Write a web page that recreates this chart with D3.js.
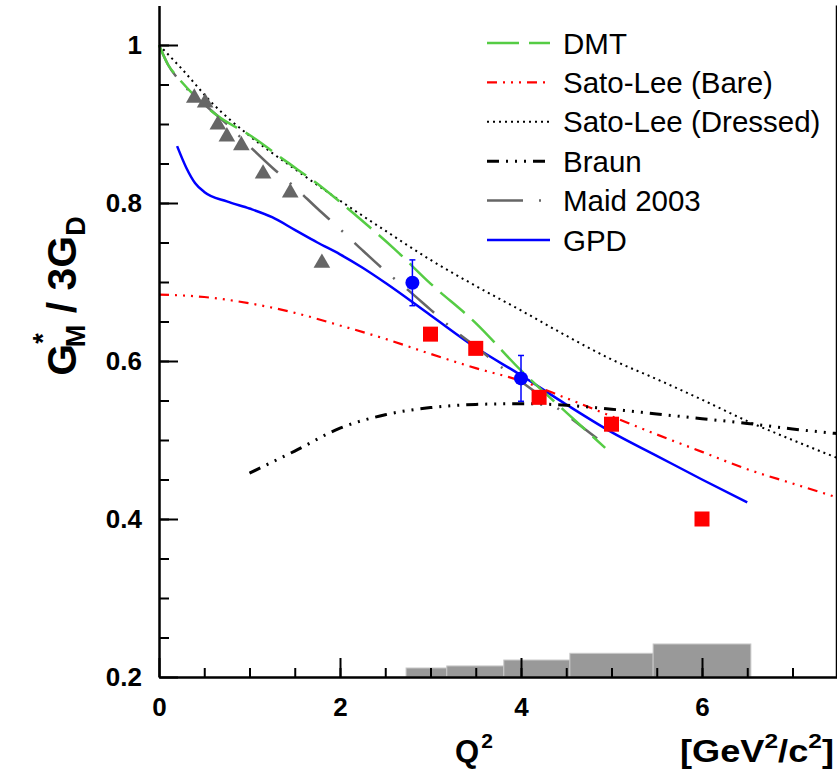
<!DOCTYPE html>
<html lang="en">
<head>
  <meta charset="utf-8">
  <title>GM* / 3GD vs Q2</title>
  <script src="https://d3js.org/d3.v7.min.js"></script>
  <style>
  body { margin: 0; background: #fff; }
  svg { display: block; font-family: "Liberation Sans", Arial, sans-serif; }
  .axis path, .axis line { stroke: #000; stroke-width: 2; }
  .axis text { font-size: 26px; font-weight: bold; fill: #000; font-family: "Liberation Sans", Arial, sans-serif; }
  .legend text { font-size: 29.5px; fill: #000; }
  </style>
</head>
<body>
<script>

// model curves, [Q2, GM*/3GD]
var dmt = [[0,1.0],[0.1,0.975],[0.2,0.96],[0.4,0.935],[0.65,0.91],[1.0,0.886],[1.4,0.853],[1.8,0.82],[2.2,0.782],[2.6,0.742],[3.0,0.698],[3.5,0.648],[4.0,0.588],[4.5,0.535],[4.93,0.49]];
var satoBare = [[0,0.684],[0.5,0.681],[1.0,0.673],[1.5,0.661],[2.0,0.645],[2.5,0.628],[3.0,0.609],[3.5,0.591],[4.0,0.575],[4.5,0.553],[5.0,0.53],[5.5,0.507],[6.0,0.485],[6.5,0.463],[7.0,0.445],[7.5,0.427]];
var satoDressed = [[0,1.0],[0.25,0.97],[0.6,0.925],[1.0,0.885],[1.5,0.843],[2.0,0.803],[2.5,0.765],[3.0,0.728],[3.5,0.695],[4.0,0.664],[4.5,0.632],[5.0,0.602],[5.5,0.577],[6.0,0.551],[6.5,0.524],[7.0,0.5],[7.5,0.477]];
var braun = [[1.0,0.458],[1.25,0.472],[1.5,0.486],[2.0,0.515],[2.5,0.532],[3.0,0.541],[3.5,0.545],[4.0,0.546],[4.5,0.544],[5.0,0.539],[5.5,0.533],[6.0,0.527],[6.5,0.521],[7.0,0.514],[7.5,0.508]];
var maid = [[0,1.0],[0.1,0.975],[0.25,0.952],[0.5,0.925],[0.75,0.9],[1.0,0.872],[1.25,0.845],[1.5,0.82],[1.75,0.793],[2.0,0.767],[2.25,0.74],[2.5,0.714],[2.75,0.69],[3.0,0.665],[3.25,0.64],[3.5,0.618],[3.75,0.595],[4.0,0.574],[4.25,0.553],[4.5,0.532],[4.84,0.502]];
var gpd = [[0.2,0.872],[0.3,0.845],[0.4,0.825],[0.5,0.814],[0.75,0.802],[1.0,0.793],[1.25,0.782],[1.5,0.766],[1.75,0.75],[2.0,0.735],[2.25,0.718],[2.5,0.699],[3.0,0.658],[3.5,0.617],[4.0,0.582],[4.5,0.545],[5.0,0.51],[5.5,0.48],[6.0,0.45],[6.5,0.421]];

// data points
var triQ2 = [0.39,0.51,0.65,0.75,0.91,1.15,1.45,1.8];
var triVal = [0.933,0.927,0.899,0.884,0.873,0.837,0.813,0.724];
var circQ2 = [2.8,4.0];
var circVal = [0.699,0.578];
var circErr = [0.029,0.029];
var sqQ2 = [3.0,3.5,4.2,5.0,6.0];
var sqVal = [0.634,0.616,0.554,0.520,0.400];

// systematic error band (histogram above 0.2)
var sysEdges = [2.73,3.18,3.81,4.54,5.46,6.54];
var sysHeights = [0.0114,0.014,0.0215,0.030,0.0418];

var legendNames = ["DMT","Sato-Lee (Bare)","Sato-Lee (Dressed)","Braun","Maid 2003","GPD"];

var xTicks = [0,2,4,6];
var yTicks = [0.2,0.4,0.6,0.8,1];

var width = 837, height = 773;

var x = d3.scaleLinear().domain([0,7.5]).range([159, 837.75]);
var y = d3.scaleLinear().domain([0.2,1.05]).range([677, 5.5]);

var svg = d3.select("body").append("svg")
    .attr("width", width)
    .attr("height", height);

svg.append("rect").attr("width", width).attr("height", height).attr("fill", "#fff");

// histogram
svg.append("g").selectAll("rect")
    .data(sysHeights)
  .enter().append("rect")
    .attr("x", function(d, i) { return x(sysEdges[i]); })
    .attr("width", function(d, i) { return x(sysEdges[i+1]) - x(sysEdges[i]); })
    .attr("y", function(d) { return y(0.2 + d); })
    .attr("height", function(d) { return y(0.2) - y(0.2 + d); })
    .attr("fill", "#999")
    .attr("stroke", "#c8c8c8")
    .attr("stroke-width", 1);

var line = d3.line()
    .x(function(d) { return x(d[0]); })
    .y(function(d) { return y(d[1]); })
    .curve(d3.curveMonotoneX);

var styles = [
  {data: dmt, color: "#55cc44", w: 2.5, dash: "32,10"},
  {data: satoBare, color: "#ff0000", w: 2.2, dash: "10,6,2,6,2,6,2,6"},
  {data: satoDressed, color: "#000", w: 2, dash: "2,4"},
  {data: braun, color: "#000", w: 3, dash: "12,7,2,7,2,7,2,7"},
  {data: maid, color: "#666", w: 2.5, dash: "36,16,2,16"},
  {data: gpd, color: "#0000ff", w: 2.5, dash: null}
];

var drawOrder = [5,1,2,3,4,0];
drawOrder.forEach(function(i) {
  var s = styles[i];
  svg.append("path")
      .datum(s.data)
      .attr("d", line)
      .attr("fill", "none")
      .attr("stroke", s.color)
      .attr("stroke-width", s.w)
      .attr("stroke-dasharray", s.dash);
});

// triangles
var tri = d3.symbol().type(d3.symbolTriangle).size(120);
svg.append("g").selectAll("path")
    .data(triQ2)
  .enter().append("path")
    .attr("d", tri)
    .attr("transform", function(d, i) { return "translate(" + x(d) + "," + y(triVal[i]) + ")"; })
    .attr("fill", "#666");

// red squares
svg.append("g").selectAll("rect")
    .data(sqQ2)
  .enter().append("rect")
    .attr("x", function(d) { return x(d) - 7.5; })
    .attr("y", function(d, i) { return y(sqVal[i]) - 7.5; })
    .attr("width", 15)
    .attr("height", 15)
    .attr("fill", "#ff0000");

// blue points with errors
var eg = svg.append("g").attr("stroke", "#0000ff").attr("stroke-width", 1.5);
circQ2.forEach(function(q, i) {
  var cx = x(q), y0 = y(circVal[i] - circErr[i]), y1 = y(circVal[i] + circErr[i]);
  eg.append("line").attr("x1", cx).attr("x2", cx).attr("y1", y0).attr("y2", y1);
  eg.append("line").attr("x1", cx - 3).attr("x2", cx + 3).attr("y1", y0).attr("y2", y0);
  eg.append("line").attr("x1", cx - 3).attr("x2", cx + 3).attr("y1", y1).attr("y2", y1);
});
svg.append("g").selectAll("circle")
    .data(circQ2)
  .enter().append("circle")
    .attr("cx", function(d) { return x(d); })
    .attr("cy", function(d, i) { return y(circVal[i]); })
    .attr("r", 7)
    .attr("fill", "#0000ff");

// axes
svg.append("g")
    .attr("class", "axis")
    .attr("transform", "translate(0," + y(0.2) + ")")
    .call(d3.axisBottom(x).tickValues(d3.range(0.5, 7.5, 0.5)).tickSize(-9).tickSizeOuter(0).tickFormat(""));
svg.append("g")
    .attr("class", "axis")
    .attr("transform", "translate(0," + y(0.2) + ")")
    .call(d3.axisBottom(x).tickValues(xTicks).tickSize(-19).tickSizeOuter(0).tickPadding(21).tickFormat(d3.format("d")));

svg.append("g")
    .attr("class", "axis")
    .attr("transform", "translate(" + x(0) + ",0)")
    .call(d3.axisLeft(y).tickValues(d3.range(0.25, 1.05, 0.05)).tickSize(-10).tickSizeOuter(0).tickFormat(""));
svg.append("g")
    .attr("class", "axis")
    .attr("transform", "translate(" + x(0) + ",0)")
    .call(d3.axisLeft(y).tickValues(yTicks).tickSize(-19).tickSizeOuter(0).tickPadding(17).tickFormat(function(d) { return d === 1 ? "1" : d3.format(".1f")(d); }));

// right frame edge
svg.append("line")
    .attr("x1", x(7.5) - 1).attr("x2", x(7.5) - 1)
    .attr("y1", y(1.05)).attr("y2", y(0.2))
    .attr("stroke", "#000").attr("stroke-width", 2);

// axis titles
var xt = svg.append("text")
    .attr("x", 455).attr("y", 762)
    .style("font-size", "31px").style("font-weight", "bold");
xt.append("tspan").text("Q");
xt.append("tspan").attr("dx", 2).attr("dy", -14).style("font-size", "21px").text("2");

var ut = svg.append("text")
    .attr("x", 834).attr("y", 762)
    .attr("text-anchor", "end")
    .attr("textLength", 154)
    .attr("lengthAdjust", "spacingAndGlyphs")
    .style("font-size", "31px").style("font-weight", "bold");
ut.append("tspan").text("[GeV");
ut.append("tspan").attr("dy", -14).style("font-size", "21px").text("2");
ut.append("tspan").attr("dy", 14).text("/c");
ut.append("tspan").attr("dy", -14).style("font-size", "21px").text("2");
ut.append("tspan").attr("dy", 14).text("]");

var yt = svg.append("text")
    .attr("transform", "translate(76,296) rotate(-90)")
    .attr("text-anchor", "middle")
    .style("font-size", "41px").style("font-weight", "bold");
yt.append("tspan").text("G");
yt.append("tspan").attr("dy", -24).style("font-size", "27px").text("*");
yt.append("tspan").attr("dx", -14).attr("dy", 33).style("font-size", "27px").text("M");
yt.append("tspan").attr("dy", -9).text(" / 3G");
yt.append("tspan").attr("dy", 9).style("font-size", "27px").text("D");

// legend
var legend = svg.append("g").attr("class", "legend");
legendNames.forEach(function(name, i) {
  var ly = 43 + i * 39.4;
  var s = styles[i];
  legend.append("line")
      .attr("x1", 487).attr("x2", 550)
      .attr("y1", ly).attr("y2", ly)
      .attr("stroke", s.color)
      .attr("stroke-width", s.w)
      .attr("stroke-dasharray", s.dash);
  legend.append("text")
      .attr("x", 563).attr("y", ly)
      .attr("dy", "0.36em")
      .text(name);
});

</script>
</body>
</html>
